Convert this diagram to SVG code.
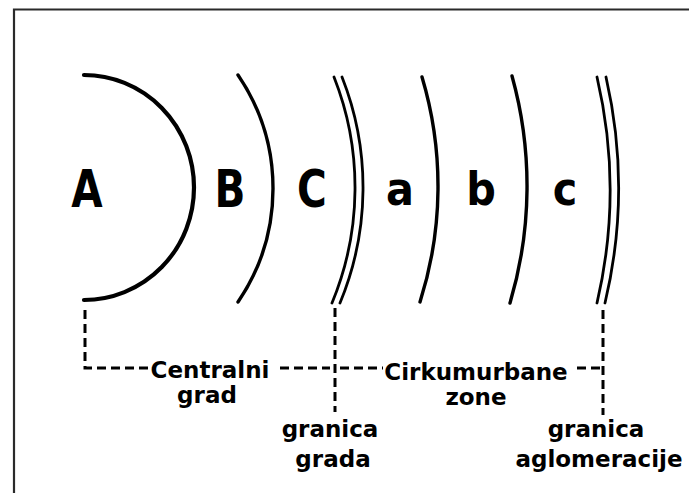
<svg xmlns="http://www.w3.org/2000/svg" width="689" height="495" viewBox="0 0 689 495">
<style>
.frame{fill:none;stroke:#2a2a2a;stroke-width:2.2}
.arc{fill:none;stroke:#000;stroke-width:3.4;stroke-linecap:round}
.arcA{fill:none;stroke:#000;stroke-width:4.2;stroke-linecap:round}
.dbl{fill:none;stroke:#000;stroke-width:2.8;stroke-linecap:round}
.dash{fill:none;stroke:#000;stroke-width:3;stroke-dasharray:9 5}
.big{font-family:"DejaVu Sans",sans-serif;font-weight:bold;font-size:52px;text-anchor:middle;fill:#000}
.lab{font-family:"DejaVu Sans",sans-serif;font-weight:bold;font-size:23px;text-anchor:middle;fill:#000}
</style>
<rect width="689" height="495" fill="#fff"/>
<path class="frame" d="M14 493 V9.5 H689"/>
<g id="zones">
<g id="zone-A"><path class="arcA" d="M84 75 A110 112.5 0 0 1 84 300"/><text class="big" transform="translate(87,207) scale(0.78,1)">A</text></g>
<g id="zone-B"><path class="arc" d="M238 75 A201.5 201.5 0 0 1 238 302"/><text class="big" transform="translate(230,207) scale(0.78,1)">B</text></g>
<g id="zone-C"><text class="big" transform="translate(312,207) scale(0.78,1)">C</text></g>
<g id="granica-grada-line"><path class="dbl" d="M334 77 A301 301 0 0 1 332 303"/><path class="dbl" d="M342 77 A301 301 0 0 1 340 303"/></g>
<g id="zone-a"><text class="big" transform="translate(400,205) scale(0.9,1)" style="font-size:46px">a</text></g>
<g id="zone-ab"><path class="arc" d="M422 77 A381 381 0 0 1 420 302"/></g>
<g id="zone-b"><text class="big" transform="translate(481,205) scale(0.9,1)" style="font-size:46px">b</text></g>
<g id="zone-bc"><path class="arc" d="M512 76 A410 410 0 0 1 510 303"/></g>
<g id="zone-c"><text class="big" transform="translate(565,205) scale(0.9,1)" style="font-size:46px">c</text></g>
<g id="granica-aglomeracije-line"><path class="dbl" d="M597 77 A498 498 0 0 1 597 303"/><path class="dbl" d="M606 77 A498 498 0 0 1 605 303"/></g>
</g>
<g id="connectors">
<path class="dash" d="M85 310 V368 H148"/>
<path class="dash" d="M280 368 H330"/>
<path class="dash" d="M340 368 H383"/>
<path class="dash" d="M335 308 V412"/>
<path class="dash" d="M577 368 H603"/>
<path class="dash" d="M603 310 V415"/>
</g>
<g id="label-centralni"><text class="lab" x="210" y="378">Centralni</text><text class="lab" x="207" y="403">grad</text></g>
<g id="label-cirkum"><text class="lab" x="476" y="380">Cirkumurbane</text><text class="lab" x="476" y="405">zone</text></g>
<g id="label-granica-grada"><text class="lab" x="330" y="437">granica</text><text class="lab" x="333" y="467">grada</text></g>
<g id="label-granica-aglo"><text class="lab" x="596" y="437">granica</text><text class="lab" x="599" y="467">aglomeracije</text></g>
</svg>
